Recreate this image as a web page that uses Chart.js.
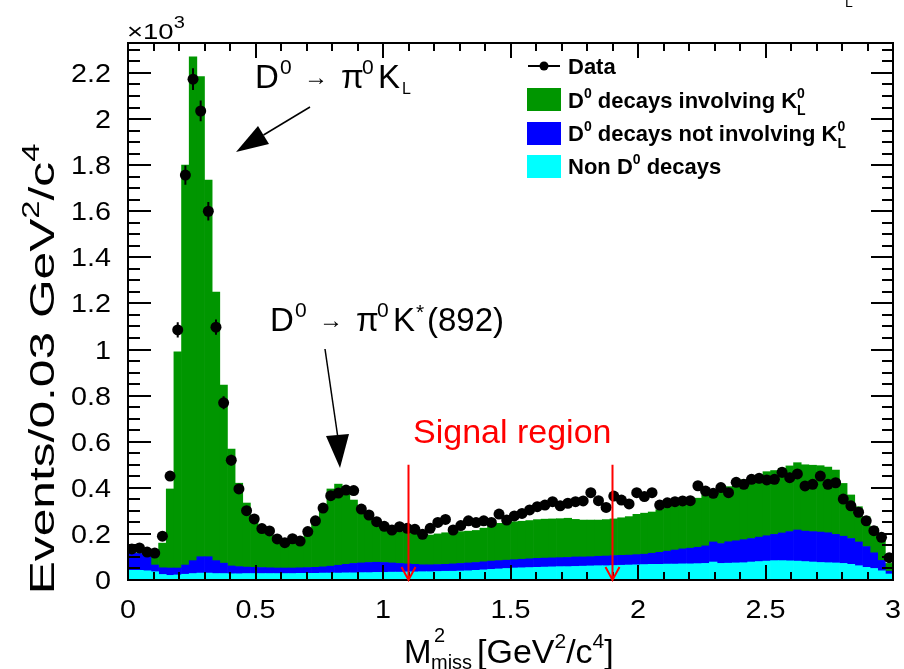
<!DOCTYPE html>
<html>
<head>
<meta charset="utf-8">
<script src="https://cdn.jsdelivr.net/npm/chart.js@4.4.0/dist/chart.umd.min.js"></script>
<style>
  body { margin: 0; background: #fff; }
  #wrap { width: 904px; height: 669px; }
</style>
</head>
<body>
<div id="wrap"><canvas id="chart"></canvas></div>
<script>
// Histogramme M2miss, 100 bins de 0.03 GeV2/c4
const binWidth = 0.03;

// Non D0 decays (cyan)
const nonD0 = [
  42, 42, 40, 36, 24, 20, 22, 25, 28, 30,
  30, 28, 28, 27, 27, 28, 28, 28, 28, 28,
  28, 28, 29, 29, 29, 30, 30, 30, 31, 31,
  32, 32, 33, 33, 34, 34, 35, 35, 36, 36,
  37, 38, 38, 39, 40, 42, 44, 46, 48, 50,
  52, 53, 54, 55, 56, 57, 58, 58, 59, 60,
  61, 62, 62, 63, 64, 65, 66, 67, 68, 68,
  69, 69, 70, 70, 71, 72, 78, 72, 73, 74,
  75, 78, 80, 82, 84, 84, 83, 82, 80, 78,
  76, 75, 74, 72, 68, 62, 55, 50, 40, 26,
];

// D0 decays not involving KL0 (blue)
const d0NoKL = [
  75, 73, 61, 29, 29, 32, 30, 40, 56, 71,
  71, 56, 45, 34, 31, 28, 27, 26, 25, 24,
  24, 24, 24, 25, 26, 27, 30, 34, 37, 41,
  42, 44, 44, 43, 40, 38, 35, 33, 30, 30,
  30, 30, 32, 33, 34, 34, 35, 36, 36, 36,
  36, 37, 38, 39, 39, 39, 39, 40, 41, 40,
  40, 41, 42, 43, 43, 43, 44, 45, 48, 52,
  56, 61, 65, 68, 71, 76, 87, 86, 93, 96,
  100, 102, 106, 110, 114, 120, 127, 135, 132, 132,
  132, 130, 124, 118, 112, 103, 90, 68, 45, 12,
];

// D0 decays involving KL0 (green)
const d0KL = [
  2, 3, 8, 35, 107, 343, 938, 1735, 2186, 2083,
  1634, 1165, 773, 507, 362, 278, 223, 177, 142, 122,
  110, 110, 121, 150, 198, 268, 335, 352, 309, 275,
  234, 199, 173, 149, 143, 138, 135, 132, 129, 129,
  133, 137, 138, 138, 138, 139, 146, 158, 162, 164,
  165, 165, 166, 168, 169, 169, 169, 170, 163, 160,
  159, 157, 158, 159, 163, 167, 175, 178, 179, 185,
  190, 195, 195, 207, 213, 221, 211, 232, 239, 250,
  260, 265, 269, 278, 277, 281, 285, 292, 288, 288,
  288, 285, 279, 229, 189, 153, 130, 113, 103, 34,
];

// Data
const dataCounts = [
  135, 139, 121, 117, 190, 451, 1085, 1757, 2173, 2035,
  1600, 1097, 769, 520, 395, 301, 265, 223, 213, 178,
  162, 179, 169, 210, 257, 312, 366, 377, 390, 388,
  308, 282, 253, 233, 217, 231, 224, 220, 198, 224,
  250, 263, 217, 236, 257, 249, 257, 250, 286, 260,
  278, 289, 304, 318, 325, 340, 322, 333, 340, 343,
  379, 344, 315, 364, 347, 330, 379, 362, 379, 325,
  335, 340, 343, 344, 409, 386, 376, 401, 379, 424,
  415, 437, 441, 434, 437, 467, 444, 460, 408, 415,
  451, 415, 422, 351, 322, 294, 257, 214, 185, 97,
];

const dataErrors = [
  12, 12, 11, 11, 14, 21, 33, 42, 47, 45,
  40, 33, 28, 23, 20, 17, 16, 15, 15, 13,
  13, 13, 13, 14, 16, 18, 19, 19, 20, 20,
  18, 17, 16, 15, 15, 15, 15, 15, 14, 15,
  16, 16, 15, 15, 16, 16, 16, 16, 17, 16,
  17, 17, 17, 18, 18, 18, 18, 18, 18, 19,
  19, 19, 18, 19, 19, 18, 19, 19, 19, 18,
  18, 18, 19, 19, 20, 20, 19, 20, 19, 21,
  20, 21, 21, 21, 21, 22, 21, 21, 20, 20,
  21, 20, 21, 19, 18, 17, 16, 15, 14, 10,
];

const xTicks = [0, 0.5, 1, 1.5, 2, 2.5, 3];
const xTickLabels = ['0', '0.5', '1', '1.5', '2', '2.5', '3'];
const yTicks = [0, 200, 400, 600, 800, 1000, 1200, 1400, 1600, 1800, 2000, 2200];
const yTickLabels = ['0', '0.2', '0.4', '0.6', '0.8', '1', '1.2', '1.4', '1.6', '1.8', '2', '2.2'];
const signalRegion = [1.1, 1.9];

const FONT = '"Liberation Sans", Arial, Helvetica, sans-serif';
const GREEN = '#009600';
const BLUE = '#0000ff';
const CYAN = '#00ffff';

const binCenters = dataCounts.map((_, i) => +(binWidth * (i + 0.5)).toFixed(3));
const toPoints = (arr) => arr.map((v, i) => ({ x: binCenters[i], y: v }));

// Texte avec exposants / indices, sx = étirement horizontal
const drawRich = (ctx, x, y, parts, align = 'left', sx = 1) => {
  const widths = parts.map((p) => {
    ctx.font = `${p.bold ? 'bold ' : ''}${p.size}px ${FONT}`;
    return p.dx !== undefined ? p.dx : ctx.measureText(p.t).width;
  });
  const total = widths.reduce((a, b) => a + b, 0) * sx;
  let start = x;
  if (align === 'center') start = x - total / 2;
  if (align === 'right') start = x - total;
  ctx.save();
  ctx.translate(start, y);
  ctx.scale(sx, 1);
  let cx = 0;
  parts.forEach((p, i) => {
    ctx.font = `${p.bold ? 'bold ' : ''}${p.size}px ${FONT}`;
    ctx.fillStyle = p.color || '#000';
    ctx.fillText(p.t, p.at !== undefined ? (p.at - start) / sx : cx, p.dy || 0);
    cx += widths[i];
  });
  ctx.restore();
};

const frameAndTicks = {
  id: 'frameAndTicks',
  afterDatasetsDraw(chart) {
    const { ctx, chartArea: a, scales: { x, y } } = chart;
    ctx.save();
    ctx.strokeStyle = '#000';
    ctx.lineWidth = 2;
    ctx.strokeRect(a.left, a.top, a.right - a.left, a.bottom - a.top);
    ctx.beginPath();
    for (let i = 0; i <= 30; i++) {
      const px = Math.round(x.getPixelForValue(i / 10));
      const major = i % 5 === 0;
      ctx.moveTo(px, a.bottom);
      ctx.lineTo(px, a.bottom - (major ? 15 : 8));
      ctx.moveTo(px, a.top);
      ctx.lineTo(px, a.top + (major ? 15 : 8));
    }
    for (let v = 0; v <= y.max; v += 50) {
      const py = Math.round(y.getPixelForValue(v));
      const major = v % 200 === 0;
      ctx.moveTo(a.left, py);
      ctx.lineTo(a.left + (major ? 23 : 12), py);
      ctx.moveTo(a.right, py);
      ctx.lineTo(a.right - (major ? 22 : 11), py);
    }
    ctx.stroke();

    // libellés des graduations
    ctx.textBaseline = 'alphabetic';
    xTicks.forEach((v, i) => {
      drawRich(ctx, x.getPixelForValue(v), a.bottom + 38, [{ t: xTickLabels[i], size: 25 }], 'center', 1.15);
    });
    yTicks.forEach((v, i) => {
      drawRich(ctx, a.left - 17, y.getPixelForValue(v) + 9, [{ t: yTickLabels[i], size: 25 }], 'right', 1.15);
    });
    ctx.restore();
  },
};

const errorBars = {
  id: 'errorBars',
  beforeDatasetDraw(chart, args) {
    if (args.index !== 3) return;
    const { ctx, scales: { x, y } } = chart;
    ctx.save();
    ctx.strokeStyle = '#000';
    ctx.lineWidth = 2;
    ctx.beginPath();
    dataCounts.forEach((v, i) => {
      const px = x.getPixelForValue(binCenters[i]);
      ctx.moveTo(px, y.getPixelForValue(v - dataErrors[i]));
      ctx.lineTo(px, y.getPixelForValue(v + dataErrors[i]));
    });
    ctx.stroke();
    ctx.restore();
  },
};

const decorations = {
  id: 'decorations',
  afterDraw(chart) {
    const { ctx, scales: { x, y } } = chart;
    ctx.save();
    ctx.textBaseline = 'alphabetic';
    ctx.textAlign = 'left';

    // x10^3
    drawRich(ctx, 127, 39, [
      { t: '\u00d710', size: 22 },
      { t: '3', size: 16, dy: -11 },
    ], 'left', 1.25);

    // titre axe Y
    ctx.save();
    ctx.translate(54, 369);
    ctx.rotate(-Math.PI / 2);
    drawRich(ctx, 0, 0, [
      { t: 'Events/0.03 GeV', size: 35 },
      { t: '2', size: 23, dy: -15 },
      { t: '/c', size: 35 },
      { t: '4', size: 23, dy: -15 },
    ], 'center', 1.42);
    ctx.restore();

    // titre axe X
    drawRich(ctx, 404, 663, [{ t: 'M', size: 33 }]);
    drawRich(ctx, 434, 642, [{ t: '2', size: 20 }]);
    drawRich(ctx, 431, 669, [{ t: 'miss', size: 20 }]);
    drawRich(ctx, 477, 663, [
      { t: '[GeV', size: 34 },
      { t: '2', size: 21, dy: -15 },
      { t: '/c', size: 34 },
      { t: '4', size: 21, dy: -15 },
      { t: ']', size: 34 },
    ]);

    // légende
    ctx.strokeStyle = '#000';
    ctx.lineWidth = 2;
    ctx.beginPath();
    ctx.moveTo(528, 66);
    ctx.lineTo(560, 66);
    ctx.stroke();
    ctx.beginPath();
    ctx.arc(544, 66, 4.5, 0, Math.PI * 2);
    ctx.fillStyle = '#000';
    ctx.fill();
    ctx.fillStyle = GREEN;
    ctx.fillRect(527, 88, 34, 23);
    ctx.fillStyle = BLUE;
    ctx.fillRect(527, 122, 34, 23);
    ctx.fillStyle = CYAN;
    ctx.fillRect(527, 155, 34, 23);
    drawRich(ctx, 568, 74, [{ t: 'Data', size: 22, bold: true }]);
    drawRich(ctx, 568, 108, [
      { t: 'D', size: 22, bold: true },
      { t: '0', size: 14, bold: true, dy: -10 },
      { t: ' decays involving K', size: 22, bold: true },
      { t: '0', size: 14, bold: true, dy: -10, dx: 0 },
      { t: 'L', size: 14, bold: true, dy: 7 },
    ]);
    drawRich(ctx, 568, 141, [
      { t: 'D', size: 22, bold: true },
      { t: '0', size: 14, bold: true, dy: -10 },
      { t: ' decays not involving K', size: 22, bold: true },
      { t: '0', size: 14, bold: true, dy: -10, dx: 0 },
      { t: 'L', size: 14, bold: true, dy: 7 },
    ]);
    drawRich(ctx, 568, 174, [
      { t: 'Non D', size: 22, bold: true },
      { t: '0', size: 14, bold: true, dy: -10 },
      { t: ' decays', size: 22, bold: true },
    ]);

    // annotations
    drawRich(ctx, 0, 88, [
      { t: 'D', size: 33, at: 255 },
      { t: '0', size: 21, dy: -14, at: 280 },
      { t: '\u2192', size: 24, dy: -3, at: 304 },
      { t: '\u03c0', size: 33, at: 341 },
      { t: '0', size: 21, dy: -14, at: 362 },
      { t: 'K', size: 33, at: 378 },
      { t: 'L', size: 16, dy: 6, at: 402 },
    ]);
    drawRich(ctx, 0, 331, [
      { t: 'D', size: 33, at: 270 },
      { t: '0', size: 21, dy: -14, at: 295 },
      { t: '\u2192', size: 24, dy: -3, at: 319 },
      { t: '\u03c0', size: 33, at: 356 },
      { t: '0', size: 21, dy: -14, at: 377 },
      { t: 'K', size: 33, at: 393 },
      { t: '*', size: 21, dy: -12, at: 416 },
      { t: '(892)', size: 33, at: 427 },
    ]);

    const blackArrow = (x1, y1, tx, ty, b1, b2) => {
      ctx.strokeStyle = '#000';
      ctx.lineWidth = 1.5;
      ctx.beginPath();
      ctx.moveTo(x1, y1);
      ctx.lineTo((b1[0] + b2[0]) / 2, (b1[1] + b2[1]) / 2);
      ctx.stroke();
      ctx.fillStyle = '#000';
      ctx.beginPath();
      ctx.moveTo(tx, ty);
      ctx.lineTo(b1[0], b1[1]);
      ctx.lineTo(b2[0], b2[1]);
      ctx.closePath();
      ctx.fill();
    };
    blackArrow(310, 107, 236, 152, [258, 126], [269, 144]);
    blackArrow(325, 349, 340, 468, [326, 436], [349, 434]);

    // région signal
    drawRich(ctx, 413, 443, [{ t: 'Signal region', size: 34, color: '#ff0000' }]);
    ctx.strokeStyle = '#ff0000';
    ctx.lineWidth = 2;
    signalRegion.forEach((v) => {
      const px = x.getPixelForValue(v);
      const top = y.getPixelForValue(500);
      const bot = y.getPixelForValue(0);
      ctx.beginPath();
      ctx.moveTo(px, top);
      ctx.lineTo(px, bot);
      ctx.moveTo(px - 7, bot - 13);
      ctx.lineTo(px, bot);
      ctx.lineTo(px + 7, bot - 13);
      ctx.stroke();
    });

    // fragment en haut à droite
    drawRich(ctx, 845, 7, [{ t: 'L', size: 14 }]);
    ctx.restore();
  },
};

const barDataset = (label, values, color) => ({
  type: 'bar',
  label,
  data: toPoints(values),
  backgroundColor: color,
  borderWidth: 0,
  barPercentage: 1,
  categoryPercentage: 1,
  stack: 'mc',
  order: 1,
});

new Chart(document.getElementById('chart'), {
  type: 'bar',
  data: {
    datasets: [
      barDataset('Non D0 decays', nonD0, CYAN),
      barDataset('D0 decays not involving KL0', d0NoKL, BLUE),
      barDataset('D0 decays involving KL0', d0KL, GREEN),
      {
        type: 'scatter',
        label: 'Data',
        data: toPoints(dataCounts),
        backgroundColor: '#000',
        borderColor: '#000',
        pointRadius: 5.5,
        pointBorderWidth: 0,
        stack: 'data',
        order: 0,
      },
    ],
  },
  options: {
    responsive: true,
    maintainAspectRatio: false,
    animation: false,
    layout: { padding: { left: 128, top: 43, right: 11, bottom: 89 } },
    plugins: { legend: { display: false }, tooltip: { enabled: false } },
    scales: {
      x: {
        type: 'linear',
        stacked: true,
        offset: false,
        min: 0,
        max: 3,
        afterFit: (s) => { s.height = 0; },
        grid: { display: false, drawTicks: false },
        border: { display: false },
        ticks: { display: false },
      },
      y: {
        stacked: true,
        min: 0,
        max: 2330,
        afterFit: (s) => { s.width = 0; },
        grid: { display: false, drawTicks: false },
        border: { display: false },
        ticks: { display: false },
      },
    },
  },
  plugins: [frameAndTicks, errorBars, decorations],
});
</script>
</body>
</html>
